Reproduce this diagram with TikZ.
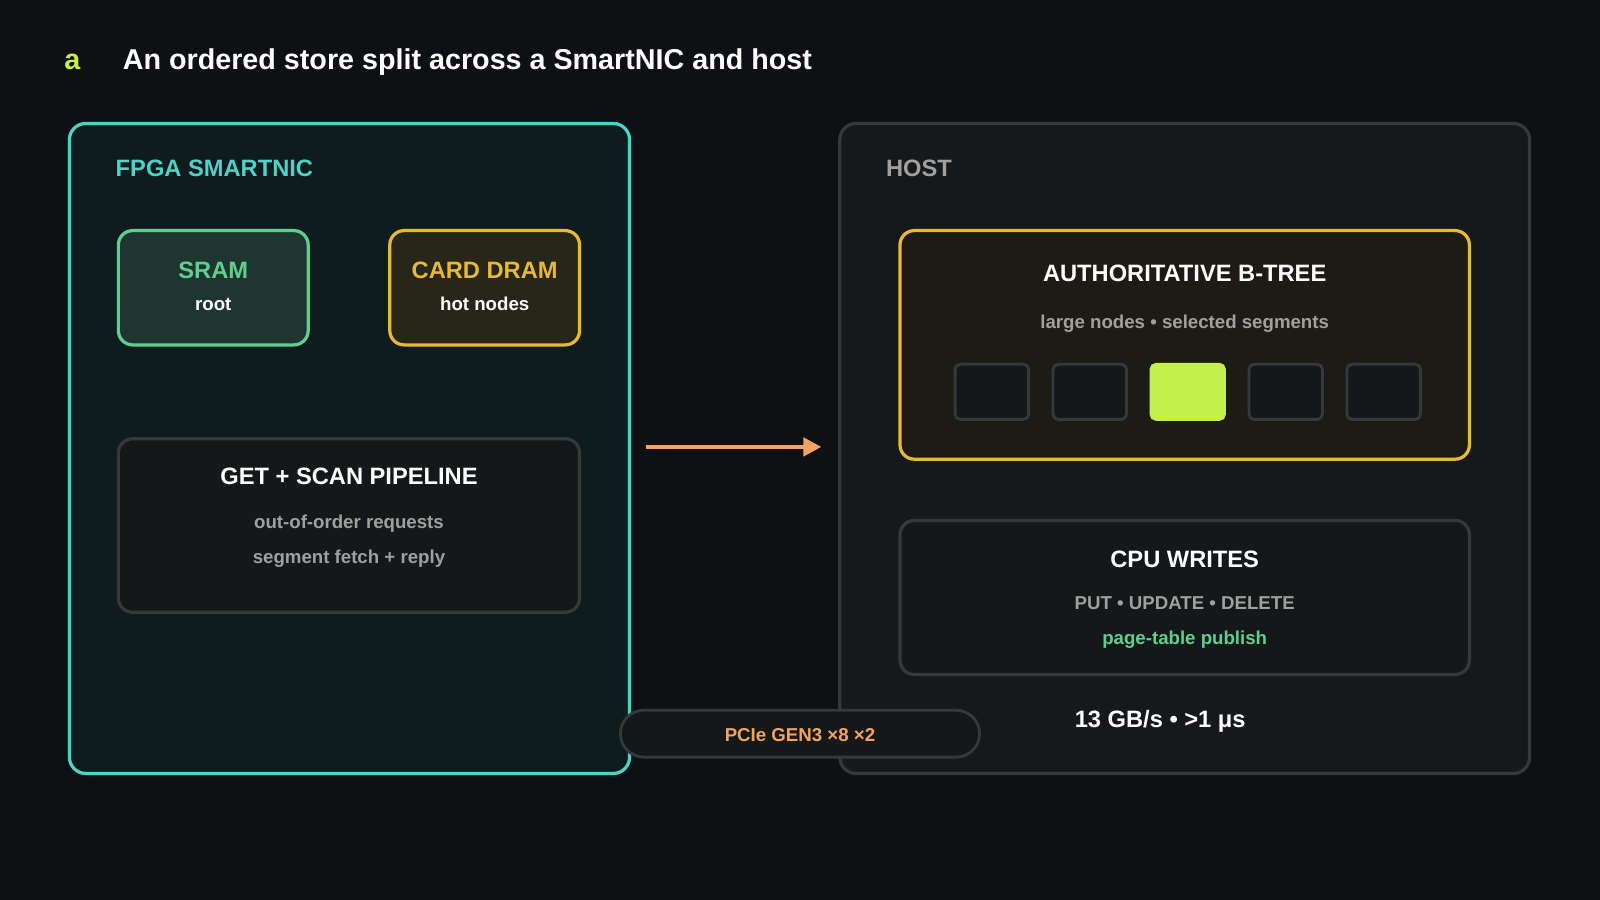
\documentclass[tikz,border=0pt]{standalone}
\usepackage{fontspec}
\setmainfont{Liberation Sans}
\usetikzlibrary{positioning,arrows.meta}
\definecolor{bgcol}{HTML}{0E1013}
\definecolor{lime}{HTML}{C5F04A}
\definecolor{teal}{HTML}{4FD1C5}
\definecolor{nicfill}{HTML}{0F1C1E}
\definecolor{srfill}{HTML}{1F3530}
\definecolor{srline}{HTML}{5FCF8F}
\definecolor{gold}{HTML}{E8B83A}
\definecolor{drfill}{HTML}{262619}
\definecolor{boxfill}{HTML}{151819}
\definecolor{boxline}{HTML}{34393B}
\definecolor{hostfill}{HTML}{161819}
\definecolor{greytxt}{HTML}{A0A0A0}
\definecolor{btfill}{HTML}{1D1B15}
\definecolor{orange}{HTML}{F4A261}
\tikzset{
    panel/.style={draw, rounded corners=16*0.01cm, line width=0.9pt},
    card/.style={draw, rounded corners=14*0.01cm, line width=0.9pt},
    cell/.style={draw=boxline, fill=boxfill, rounded corners=5*0.01cm, line width=0.8pt},
    big/.style={font=\fontsize{8}{9}\selectfont\bfseries},
    head/.style={font=\fontsize{6.6}{8}\selectfont\bfseries},
    small/.style={font=\fontsize{5.2}{6}\selectfont\bfseries},
  }
\begin{document}
\begin{tikzpicture}[x=0.01cm,y=-0.01cm]
				  %background
				  \fill[bgcol] (0,0) rectangle (1568,882);
				  \useasboundingbox (0,0) rectangle (1568,882);
				  \node[big, text=lime] (tag) at (71,61) {a};
				  \node[big, text=white, anchor=west] (title) at (108,61) {An ordered store split across a SmartNIC and host};
				  
				  %panels
				  \draw[panel, draw=teal, fill=nicfill] (68,121) rectangle (617,758);
				  \draw[panel, draw=boxline, fill=hostfill] (823,121) rectangle (1499,758);
				  \node[head, text=teal, anchor=west] (nic) at (101,165) {FPGA SMARTNIC};
				  \node[head, text=greytxt, anchor=west] (host) at (856,165) {HOST};
				  
				  %fpga side
				  \draw[card, draw=srline, fill=srfill] (116,226) rectangle (302,338);
				  \node[head, text=srline] (sram) at (209,265) {SRAM};
				  \node[small, text=white] (root) at (209,298) {root};
				  \draw[card, draw=gold, fill=drfill] (382,226) rectangle (568,338);
				  \node[head, text=gold] (dram) at (475,265) {CARD DRAM};
				  \node[small, text=white] (hot) at (475,298) {hot nodes};
				  \draw[card, draw=boxline, fill=boxfill] (116,430) rectangle (568,600);
				  \node[head, text=white] (pipe) at (342,467) {GET + SCAN PIPELINE};
				  \node[small, text=greytxt] (ooo) at (342,513) {out-of-order requests};
				  \node[small, text=greytxt] (fetch) at (342,548) {segment fetch + reply};
				  
				  %host side
				  \draw[card, draw=gold, fill=btfill] (882,226) rectangle (1440,450);
				  \node[head, text=white] (btree) at (1161,268) {AUTHORITATIVE B-TREE};
				  \node[small, text=greytxt] (seg) at (1161,317) {large nodes • selected segments};
				  \foreach \x in {936,1032,1224,1320}
				      \draw[cell] (\x,357) rectangle ++(72,54);
				  \draw[cell, draw=lime, fill=lime] (1128,357) rectangle ++(72,54);
				  \draw[card, draw=boxline, fill=boxfill] (882,510) rectangle (1440,661);
				  \node[head, text=white] (cpu) at (1161,548) {CPU WRITES};
				  \node[small, text=greytxt] (ops) at (1161,591) {PUT • UPDATE • DELETE};
				  \node[small, text=srline] (pub) at (1161,627) {page-table publish};
				  
				  %link
				  \coordinate (arrS) at (633,438);
				  \coordinate (arrE) at (805,438);
				  \draw[orange, line width=1.2pt, -{Triangle[length=5pt,width=5pt]}] (arrS) -- (arrE);
				  \draw[draw=boxline, fill=boxfill, line width=0.8pt, rounded corners=23*0.01cm] (608,696) rectangle (960,742);
				  \node[small, text=orange] (pcie) at (784,720) {PCIe GEN3 ×8 ×2};
				  \node[head, text=white] (bw) at (1137,707) {13 GB/s • >1 μs};
				  \end{tikzpicture}
\end{document}
